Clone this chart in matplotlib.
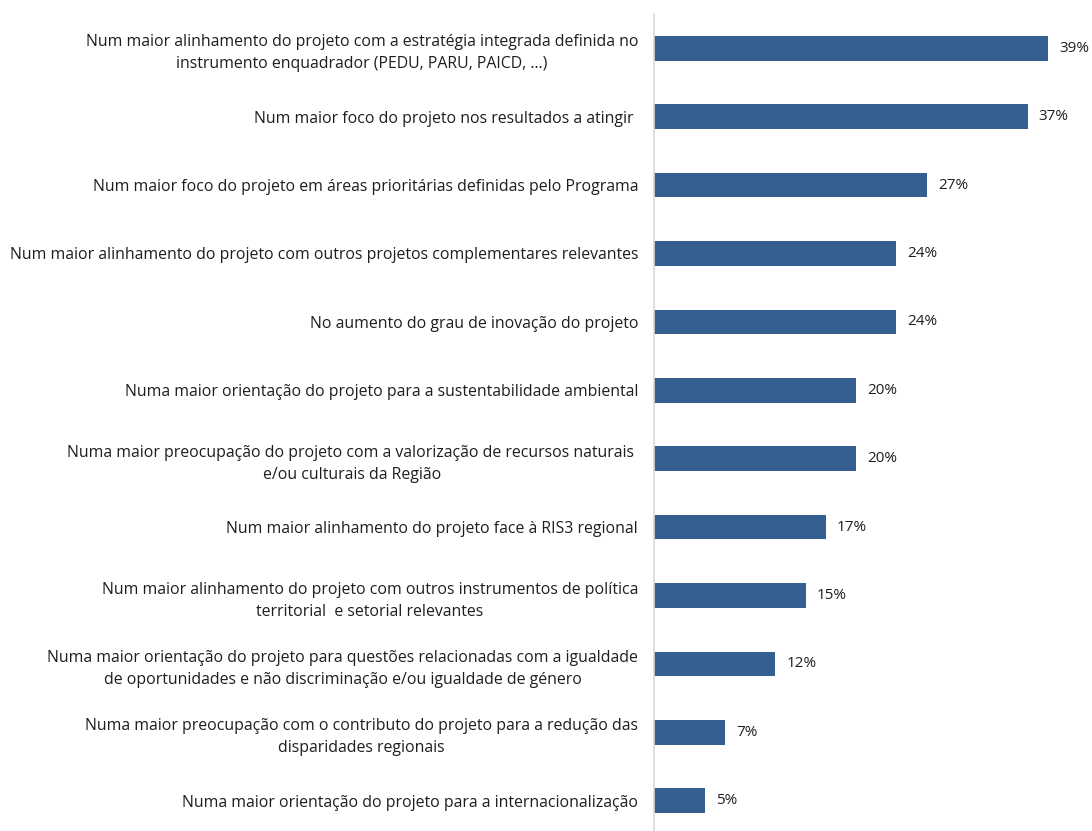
import matplotlib.pyplot as plt
import numpy as np

plt.rcParams['font.family'] = ['Open Sans', 'DejaVu Sans']

# respostas (ordem de cima para baixo)
categorias = [
    "Num maior alinhamento do projeto com a estratégia integrada definida no\ninstrumento enquadrador (PEDU, PARU, PAICD, …)",
    "Num maior foco do projeto nos resultados a atingir ",
    "Num maior foco do projeto em áreas prioritárias definidas pelo Programa",
    "Num maior alinhamento do projeto com outros projetos complementares relevantes",
    "No aumento do grau de inovação do projeto",
    "Numa maior orientação do projeto para a sustentabilidade ambiental",
    "Numa maior preocupação do projeto com a valorização de recursos naturais \ne/ou culturais da Região",
    "Num maior alinhamento do projeto face à RIS3 regional",
    "Num maior alinhamento do projeto com outros instrumentos de política\nterritorial  e setorial relevantes",
    "Numa maior orientação do projeto para questões relacionadas com a igualdade\nde oportunidades e não discriminação e/ou igualdade de género",
    "Numa maior preocupação com o contributo do projeto para a redução das\ndisparidades regionais",
    "Numa maior orientação do projeto para a internacionalização",
]
percentagens = [39, 37, 27, 24, 24, 20, 20, 17, 15, 12, 7, 5]

cor_texto = '#1e1e1e'

fig = plt.figure(figsize=(10.92, 8.31), dpi=100)
ax = fig.add_axes([654 / 1092, -4 / 831, 43 * 10.1 / 1092, 1 - 14 / 831 + 4 / 831])

y = np.arange(len(categorias))
ax.barh(y, percentagens, height=0.36, color='#365f91')

for yi, v in zip(y, percentagens):
    ax.text(v + 1.1, yi, f"{v}%", va='center', ha='left', fontsize=11, color=cor_texto)

ax.set_ylim(len(categorias) - 0.5, -0.5)
ax.set_xlim(0, 43)
ax.set_yticks(y)
ax.set_yticklabels(categorias, fontsize=11.4, color=cor_texto)
for lbl in ax.get_yticklabels():
    lbl.set_multialignment('center')
    lbl.set_linespacing(1.5)
ax.tick_params(axis='y', length=0, pad=11.5)
ax.set_xticks([])

for s in ['top', 'right', 'bottom']:
    ax.spines[s].set_visible(False)
ax.spines['left'].set_color('#d9d9d9')
ax.spines['left'].set_linewidth(1.2)

fig.savefig('out.png', dpi=100)
